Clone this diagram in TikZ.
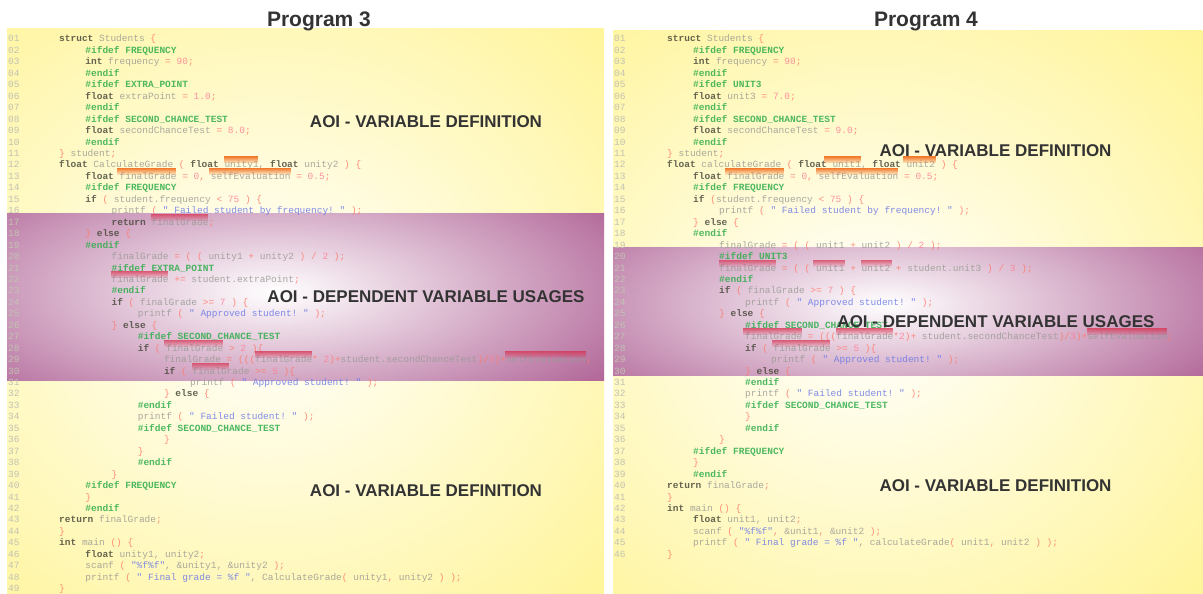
\documentclass[tikz,border=0pt]{standalone}
\usepackage{fontspec}
\setmainfont{Liberation Sans}
\setmonofont{Liberation Mono}
\usepackage{tikz}
\usetikzlibrary{fadings}

\definecolor{aoiyellow}{HTML}{FFF070}
\definecolor{aoipurple}{HTML}{9C3C7C}
\definecolor{kwcol}{HTML}{4A4A3C}
\definecolor{ppcol}{HTML}{2EAD4B}
\definecolor{idcol}{HTML}{9A9A94}
\definecolor{opcol}{HTML}{FF7A6A}
\definecolor{nmcol}{HTML}{FF7F95}
\definecolor{strcol}{HTML}{6A78E6}
\definecolor{lncol}{HTML}{C2C2B2}
\definecolor{labcol}{HTML}{333333}
\definecolor{markorange}{HTML}{F06A18}
\definecolor{markred}{HTML}{D8304E}

\tikzfading[name=markfade,top color=transparent!0,bottom color=transparent!95]

% token colours of the listings
\newcommand{\ckw}[1]{\textcolor{kwcol}{\textbf{#1}}}
\newcommand{\cpp}[1]{\textcolor{ppcol}{\textbf{#1}}}
\newcommand{\cop}[1]{\textcolor{opcol}{#1}}
\newcommand{\cnum}[1]{\textcolor{nmcol}{#1}}
\newcommand{\cstr}[1]{\textcolor{strcol}{#1}}

% one numbered source line: line, indent level, text
\newcommand{\srcline}[3]{%
  \node[lnum] (\prog-n#1) at (\numx,{42+11.45*(#1-1)}) {\ifnum#1<10 0\fi#1};
  \node[code] (\prog-c#1) at ({\codex+\indentstep*#2},{42+11.45*(#1-1)}) {#3};
}

\begin{document}
\begin{tikzpicture}[x=1pt,y=-1pt,
  lnum/.style={anchor=base west,inner sep=0pt,text=lncol,font=\ttfamily\fontsize{9.5}{11}\selectfont},
  code/.style={anchor=base west,inner sep=0pt,text=idcol,text opacity=0.85,font=\ttfamily\fontsize{9.5}{11}\selectfont},
  title/.style={anchor=base,inner sep=0pt,text=labcol,font=\fontsize{21}{24}\selectfont\bfseries},
  aoi/.style={anchor=base,inner sep=0pt,text=labcol,font=\fontsize{17}{20}\selectfont\bfseries},
  defmark/.style={fill=markorange,path fading=markfade,fill opacity=0.9},
  usemark/.style={fill=markred,path fading=markfade,fill opacity=0.75}]
\useasboundingbox (0,0) rectangle (1203,594);
\fill[white] (0,0) rectangle (1203,594);

% yellow panels
\begin{scope}
\clip (7,29) rectangle (604,594);
\fill[aoiyellow] (7,29) rectangle (604,594);
\shade[inner color=white,outer color=aoiyellow] (270,310) ellipse (660pt and 580pt);
\end{scope}
\begin{scope}
\clip (613,31) rectangle (1203,594);
\fill[aoiyellow] (613,31) rectangle (1203,594);
\shade[inner color=white,outer color=aoiyellow] (870,320) ellipse (640pt and 560pt);
\end{scope}

% purple bands
\begin{scope}
\clip (7,213) rectangle (604,380);
\fill[aoipurple] (7,213) rectangle (604,380);
\shade[inner color=white,outer color=aoipurple] (275,292) ellipse (520pt and 190pt);
\end{scope}
\begin{scope}
\clip (613,247) rectangle (1203,375);
\fill[aoipurple] (613,247) rectangle (1203,375);
\shade[inner color=white,outer color=aoipurple] (885,304) ellipse (500pt and 170pt);
\end{scope}

\node[title] (p3-title) at (319,27) {Program 3};
\node[title] (p4-title) at (926,27) {Program 4};

% Program 3
\def\prog{p3}\def\numx{8}\def\codex{59}\def\indentstep{26.2}
\srcline{1}{0}{\ckw{struct} Students \cop{\{}}
\srcline{2}{1}{\cpp{\#ifdef FREQUENCY}}
\srcline{3}{1}{\ckw{int} frequency \cop{=} \cnum{90}\cop{;}}
\srcline{4}{1}{\cpp{\#endif}}
\srcline{5}{1}{\cpp{\#ifdef EXTRA\_POINT}}
\srcline{6}{1}{\ckw{float} extraPoint \cop{=} \cnum{1.0}\cop{;}}
\srcline{7}{1}{\cpp{\#endif}}
\srcline{8}{1}{\cpp{\#ifdef SECOND\_CHANCE\_TEST}}
\srcline{9}{1}{\ckw{float} secondChanceTest \cop{=} \cnum{8.0}\cop{;}}
\srcline{10}{1}{\cpp{\#endif}}
\srcline{11}{0}{\cop{\}} student\cop{;}}
\srcline{12}{0}{\ckw{float} CalculateGrade \cop{(} \ckw{float} unity1, \ckw{float} unity2 \cop{) \{}}
\srcline{13}{1}{\ckw{float} finalGrade \cop{=} \cnum{0}\cop{,} selfEvaluation \cop{=} \cnum{0.5}\cop{;}}
\srcline{14}{1}{\cpp{\#ifdef FREQUENCY}}
\srcline{15}{1}{\ckw{if} \cop{(} student.frequency \cop{<} \cnum{75} \cop{) \{}}
\srcline{16}{2}{printf \cop{(} \cstr{" Failed student by frequency! "} \cop{);}}
\srcline{17}{2}{\ckw{return} finalGrade\cop{;}}
\srcline{18}{1}{\cop{\}} \ckw{else} \cop{\{}}
\srcline{19}{1}{\cpp{\#endif}}
\srcline{20}{2}{finalGrade \cop{= ( (} unity1 \cop{+} unity2 \cop{) /} \cnum{2} \cop{);}}
\srcline{21}{2}{\cpp{\#ifdef EXTRA\_POINT}}
\srcline{22}{2}{finalGrade \cop{+=} student.extraPoint\cop{;}}
\srcline{23}{2}{\cpp{\#endif}}
\srcline{24}{2}{\ckw{if} \cop{(} finalGrade \cop{>=} \cnum{7} \cop{) \{}}
\srcline{25}{3}{printf \cop{(} \cstr{" Approved student! "} \cop{);}}
\srcline{26}{2}{\cop{\}} \ckw{else} \cop{\{}}
\srcline{27}{3}{\cpp{\#ifdef SECOND\_CHANCE\_TEST}}
\srcline{28}{3}{\ckw{if} \cop{(} finalGrade \cop{>} \cnum{2} \cop{)\{}}
\srcline{29}{4}{finalGrade \cop{= (((}finalGrade\cop{*} \cnum{2}\cop{)+}student.secondChanceTest\cop{)/}\cnum{3}\cop{)+}selfEvaluation\cop{;}}
\srcline{30}{4}{\ckw{if} \cop{(} finalGrade \cop{>=} \cnum{5} \cop{)\{}}
\srcline{31}{5}{printf \cop{(} \cstr{" Approved student! "} \cop{);}}
\srcline{32}{4}{\cop{\}} \ckw{else} \cop{\{}}
\srcline{33}{3}{\cpp{\#endif}}
\srcline{34}{3}{printf \cop{(} \cstr{" Failed student! "} \cop{);}}
\srcline{35}{3}{\cpp{\#ifdef SECOND\_CHANCE\_TEST}}
\srcline{36}{4}{\cop{\}}}
\srcline{37}{3}{\cop{\}}}
\srcline{38}{3}{\cpp{\#endif}}
\srcline{39}{2}{\cop{\}}}
\srcline{40}{1}{\cpp{\#ifdef FREQUENCY}}
\srcline{41}{1}{\cop{\}}}
\srcline{42}{1}{\cpp{\#endif}}
\srcline{43}{0}{\ckw{return} finalGrade\cop{;}}
\srcline{44}{0}{\cop{\}}}
\srcline{45}{0}{\ckw{int} main \cop{() \{}}
\srcline{46}{1}{\ckw{float} unity1, unity2\cop{;}}
\srcline{47}{1}{scanf \cop{(} \cstr{"\%f\%f"}, \&unity1, \&unity2 \cop{);}}
\srcline{48}{1}{printf \cop{(} \cstr{" Final grade = \%f "}, CalculateGrade\cop{(} unity1\cop{,} unity2 \cop{) );}}
\srcline{49}{0}{\cop{\}}}

% Program 4
\def\prog{p4}\def\numx{614}\def\codex{667}\def\indentstep{26}
\srcline{1}{0}{\ckw{struct} Students \cop{\{}}
\srcline{2}{1}{\cpp{\#ifdef FREQUENCY}}
\srcline{3}{1}{\ckw{int} frequency \cop{=} \cnum{90}\cop{;}}
\srcline{4}{1}{\cpp{\#endif}}
\srcline{5}{1}{\cpp{\#ifdef UNIT3}}
\srcline{6}{1}{\ckw{float} unit3 \cop{=} \cnum{7.0}\cop{;}}
\srcline{7}{1}{\cpp{\#endif}}
\srcline{8}{1}{\cpp{\#ifdef SECOND\_CHANCE\_TEST}}
\srcline{9}{1}{\ckw{float} secondChanceTest \cop{=} \cnum{9.0}\cop{;}}
\srcline{10}{1}{\cpp{\#endif}}
\srcline{11}{0}{\cop{\}} student\cop{;}}
\srcline{12}{0}{\ckw{float} calculateGrade \cop{(} \ckw{float} unit1, \ckw{float} unit2 \cop{) \{}}
\srcline{13}{1}{\ckw{float} finalGrade \cop{=} \cnum{0}\cop{,} selfEvaluation \cop{=} \cnum{0.5}\cop{;}}
\srcline{14}{1}{\cpp{\#ifdef FREQUENCY}}
\srcline{15}{1}{\ckw{if} \cop{(}student.frequency \cop{<} \cnum{75} \cop{) \{}}
\srcline{16}{2}{printf \cop{(} \cstr{" Failed student by frequency! "} \cop{);}}
\srcline{17}{1}{\cop{\}} \ckw{else} \cop{\{}}
\srcline{18}{1}{\cpp{\#endif}}
\srcline{19}{2}{finalGrade \cop{= ( (} unit1 \cop{+} unit2 \cop{) /} \cnum{2} \cop{);}}
\srcline{20}{2}{\cpp{\#ifdef UNIT3}}
\srcline{21}{2}{finalGrade \cop{= ( (} unit1 \cop{+} unit2 \cop{+} student.unit3 \cop{) /} \cnum{3} \cop{);}}
\srcline{22}{2}{\cpp{\#endif}}
\srcline{23}{2}{\ckw{if} \cop{(} finalGrade \cop{>=} \cnum{7} \cop{) \{}}
\srcline{24}{3}{printf \cop{(} \cstr{" Approved student! "} \cop{);}}
\srcline{25}{2}{\cop{\}} \ckw{else} \cop{\{}}
\srcline{26}{3}{\cpp{\#ifdef SECOND\_CHANCE\_TEST}}
\srcline{27}{3}{finalGrade \cop{= (((}finalGrade\cop{*}\cnum{2}\cop{)+} student.secondChanceTest\cop{)/}\cnum{3}\cop{)+}selfEvaluation\cop{;}}
\srcline{28}{3}{\ckw{if} \cop{(} finalGrade \cop{>=} \cnum{5} \cop{)\{}}
\srcline{29}{4}{printf \cop{(} \cstr{" Approved student! "} \cop{);}}
\srcline{30}{3}{\cop{\}} \ckw{else} \cop{\{}}
\srcline{31}{3}{\cpp{\#endif}}
\srcline{32}{3}{printf \cop{(} \cstr{" Failed student! "} \cop{);}}
\srcline{33}{3}{\cpp{\#ifdef SECOND\_CHANCE\_TEST}}
\srcline{34}{3}{\cop{\}}}
\srcline{35}{3}{\cpp{\#endif}}
\srcline{36}{2}{\cop{\}}}
\srcline{37}{1}{\cpp{\#ifdef FREQUENCY}}
\srcline{38}{1}{\cop{\}}}
\srcline{39}{1}{\cpp{\#endif}}
\srcline{40}{0}{\ckw{return} finalGrade\cop{;}}
\srcline{41}{0}{\cop{\}}}
\srcline{42}{0}{\ckw{int} main \cop{() \{}}
\srcline{43}{1}{\ckw{float} unit1, unit2\cop{;}}
\srcline{44}{1}{scanf \cop{(} \cstr{"\%f\%f"}\cop{,} \&unit1\cop{,} \&unit2 \cop{);}}
\srcline{45}{1}{printf \cop{(} \cstr{" Final grade = \%f "}, calculateGrade\cop{(} unit1\cop{,} unit2 \cop{) );}}
\srcline{46}{0}{\cop{\}}}

% highlighted definitions and usages: x from / x to / line
\foreach \xa/\xb/\ln in {224/258/12, 117/176/13, 209/291/13, 824/861/12, 903/936/12, 725/784/13, 816/898/13}
  \fill[defmark] (\xa,{30.5+11.45*(\ln-1)}) rectangle (\xb,{37.5+11.45*(\ln-1)});
\foreach \xa/\xb/\ln in {151/208/17, 111/168/22, 164/223/28, 255/312/29, 505/586/29, 192/229/30,
    719/776/21, 813/845/21, 861/892/21, 743/802/27, 836/893/27, 1087/1167/27, 772/830/28}
  \fill[usemark] (\xa,{30.5+11.45*(\ln-1)}) rectangle (\xb,{37.5+11.45*(\ln-1)});

% areas of interest
\node[aoi] (p3-def-top) at (426,127) {AOI - VARIABLE DEFINITION};
\node[aoi] (p3-usage) at (426,302) {AOI - DEPENDENT VARIABLE USAGES};
\node[aoi] (p3-def-bottom) at (426,496) {AOI - VARIABLE DEFINITION};
\node[aoi] (p4-def-top) at (995.5,156) {AOI - VARIABLE DEFINITION};
\node[aoi] (p4-usage) at (996,327) {AOI - DEPENDENT VARIABLE USAGES};
\node[aoi] (p4-def-bottom) at (995.5,491) {AOI - VARIABLE DEFINITION};
\end{tikzpicture}
\end{document}
